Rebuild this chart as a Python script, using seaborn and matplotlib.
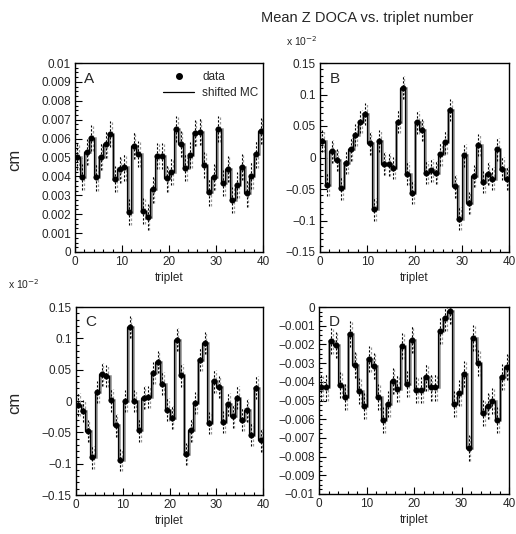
import numpy as np
import pandas as pd
import matplotlib
matplotlib.use("Agg")
import matplotlib.pyplot as plt
import seaborn as sns
from matplotlib.ticker import MultipleLocator, FuncFormatter
from matplotlib.lines import Line2D

# ---------------- data ----------------
triplet_centers = np.arange(40) + 0.5
bin_edges = np.arange(41)

panel_A = [0.00505, 0.00398, 0.0053, 0.00602, 0.00395, 0.00505, 0.0057, 0.00625, 0.00386, 0.00437,
           0.00448, 0.00212, 0.00563, 0.00519, 0.00216, 0.00186, 0.00331, 0.00508, 0.00507, 0.0039,
           0.00425, 0.00652, 0.00572, 0.00446, 0.00514, 0.00629, 0.00637, 0.0046, 0.00315, 0.00398,
           0.00652, 0.00366, 0.00439, 0.00275, 0.00354, 0.00451, 0.0031, 0.00404, 0.00517, 0.0064]
panel_B = [0.026, -0.043, 0.010, -0.004, -0.049, -0.008, 0.013, 0.0355, 0.0567, 0.069,
           0.0223, -0.082, 0.026, -0.0096, -0.011, -0.0165, 0.0567, 0.111, -0.0255, -0.0557,
           0.0557, 0.0435, -0.0239, -0.0202, -0.0239, 0.0053, 0.0239, 0.0753, -0.0457, -0.097,
           0.0037, -0.0723, -0.0293, 0.0196, -0.0388, -0.0255, -0.0334, 0.0127, -0.0175, -0.0334]
panel_C = [-0.0057, -0.016, -0.048, -0.090, 0.0143, 0.0425, 0.040, 0.001, -0.0387, -0.0944,
           0.0, 0.118, 0.0, -0.0467, 0.0054, 0.0064, 0.0446, 0.062, 0.0277, -0.0137,
           -0.0264, 0.0978, 0.0409, -0.0849, -0.0467, -0.0032, 0.0659, 0.0924, -0.035, 0.0314,
           0.0223, -0.0334, -0.0053, -0.0244, 0.0054, -0.0296, -0.0148, -0.0535, 0.0213, -0.0626]
panel_D = [-0.0043, -0.0043, -0.00181, -0.00205, -0.00418, -0.0048, -0.00146, -0.0031, -0.00448, -0.0053,
           -0.00276, -0.00317, -0.0048, -0.00605, -0.0052, -0.00395, -0.00436, -0.00208, -0.0041, -0.00174,
           -0.00445, -0.00445, -0.00377, -0.0043, -0.0043, -0.00128, -0.00057, -0.00021, -0.0052, -0.00459,
           -0.0036, -0.00756, -0.00164, -0.003, -0.00566, -0.0053, -0.00502, -0.00605, -0.00374, -0.0032]

panel_letters = ["A", "B", "C", "D"]
panel_errors = [0.0007, 0.018, 0.018, 0.0007]
panel_ylims = [(0, 0.01), (-0.15, 0.15), (-0.15, 0.15), (-0.01, 0)]
panel_major = [0.001, 0.05, 0.05, 0.001]
panel_minor = [0.00025, 0.01, 0.01, 0.00025]

title_text = "Mean Z DOCA vs. triplet number"
x_label = "triplet"
y_label = "cm"
legend_labels = ["data", "shifted MC"]

# ---------------- style ----------------
sns.set_style("ticks")
plt.rcParams["font.family"] = ["Liberation Sans", "DejaVu Sans"]
plt.rcParams["axes.unicode_minus"] = True

W, H = 516, 534
fig = plt.figure(figsize=(W / 100, H / 100), dpi=100)

# axes boxes in pixel coords: (left, top, right, bottom)
boxes = [(75, 63, 263, 252), (320, 63, 509, 252), (76, 307, 263, 495), (319, 307, 509, 494)]
datasets = [panel_A, panel_B, panel_C, panel_D]


def fmt(v, pos):
    s = "%g" % round(v, 6)
    if s == "-0":
        s = "0"
    return s.replace("-", "\u2212")


for i, (box, vals) in enumerate(zip(boxes, datasets)):
    l, t, r, b = box
    ax = fig.add_axes([l / W, 1 - b / H, (r - l) / W, (b - t) / H])
    vals = np.array(vals)
    err = panel_errors[i]
    df = pd.DataFrame({"triplet": triplet_centers, "value": vals})

    # MC histogram: grey shadow + black outline
    ax.stairs(vals, bin_edges + 0.18, baseline=None, color="#8a8a8a", lw=1.8, zorder=2)
    ax.stairs(vals, bin_edges, baseline=None, color="black", lw=0.9, zorder=3)

    # error bars (dashed)
    ax.vlines(df["triplet"] + 0.35, df["value"] - err, df["value"] + err,
              colors="#9a9a9a", linestyles=(0, (2.0, 1.6)), lw=0.9, zorder=1)
    ax.vlines(df["triplet"], df["value"] - err, df["value"] + err,
              colors="black", linestyles=(0, (2.0, 1.6)), lw=0.8, zorder=4)

    # data points
    sns.scatterplot(data=df, x="triplet", y="value", ax=ax, color="black", s=16,
                    edgecolor="black", linewidth=0.3, zorder=5, legend=False)

    ax.set_xlim(0, 40)
    ax.set_ylim(*panel_ylims[i])
    ax.xaxis.set_major_locator(MultipleLocator(10))
    ax.xaxis.set_minor_locator(MultipleLocator(2))
    ax.yaxis.set_major_locator(MultipleLocator(panel_major[i]))
    ax.yaxis.set_minor_locator(MultipleLocator(panel_minor[i]))
    ax.yaxis.set_major_formatter(FuncFormatter(fmt))
    ax.xaxis.set_major_formatter(FuncFormatter(fmt))
    ax.tick_params(which="both", direction="in", top=False, right=False, width=0.8,
                   labelsize=8.5, pad=3, color="black")
    ax.tick_params(which="major", length=5)
    ax.tick_params(which="minor", length=2.5)
    for sp in ax.spines.values():
        sp.set_visible(True)
        sp.set_linewidth(1.0)
        sp.set_color("black")
    ax.set_xlabel(x_label, fontsize=8.5, labelpad=3)
    ax.set_ylabel("")
    ax.text(0.05, 0.955, panel_letters[i], transform=ax.transAxes, ha="left", va="top",
            fontsize=11, zorder=6)

    if i == 0:
        handles = [Line2D([], [], marker="o", ls="none", color="black", ms=4),
                   Line2D([], [], color="black", lw=0.9)]
        ax.legend(handles, legend_labels, loc="upper right", frameon=False, fontsize=8.5,
                  handlelength=2.6, handletextpad=0.7, labelspacing=0.35,
                  bbox_to_anchor=(1.02, 1.0), borderaxespad=0.3)

# y labels "cm"
fig.text(15 / W, 1 - 160 / H, y_label, rotation=90, ha="center", va="center", fontsize=12)
fig.text(15 / W, 1 - 403 / H, y_label, rotation=90, ha="center", va="center", fontsize=12)

# exponent labels
fig.text(286 / W, 1 - 48 / H, r"x 10$^{-2}$", ha="left", va="bottom", fontsize=7.5)
fig.text(8 / W, 1 - 291 / H, r"x 10$^{-2}$", ha="left", va="bottom", fontsize=7.5)

# title
fig.text(367 / W, 1 - 18 / H, title_text, ha="center", va="center", fontsize=10.5)

fig.savefig("out.png", dpi=100, facecolor="white")
